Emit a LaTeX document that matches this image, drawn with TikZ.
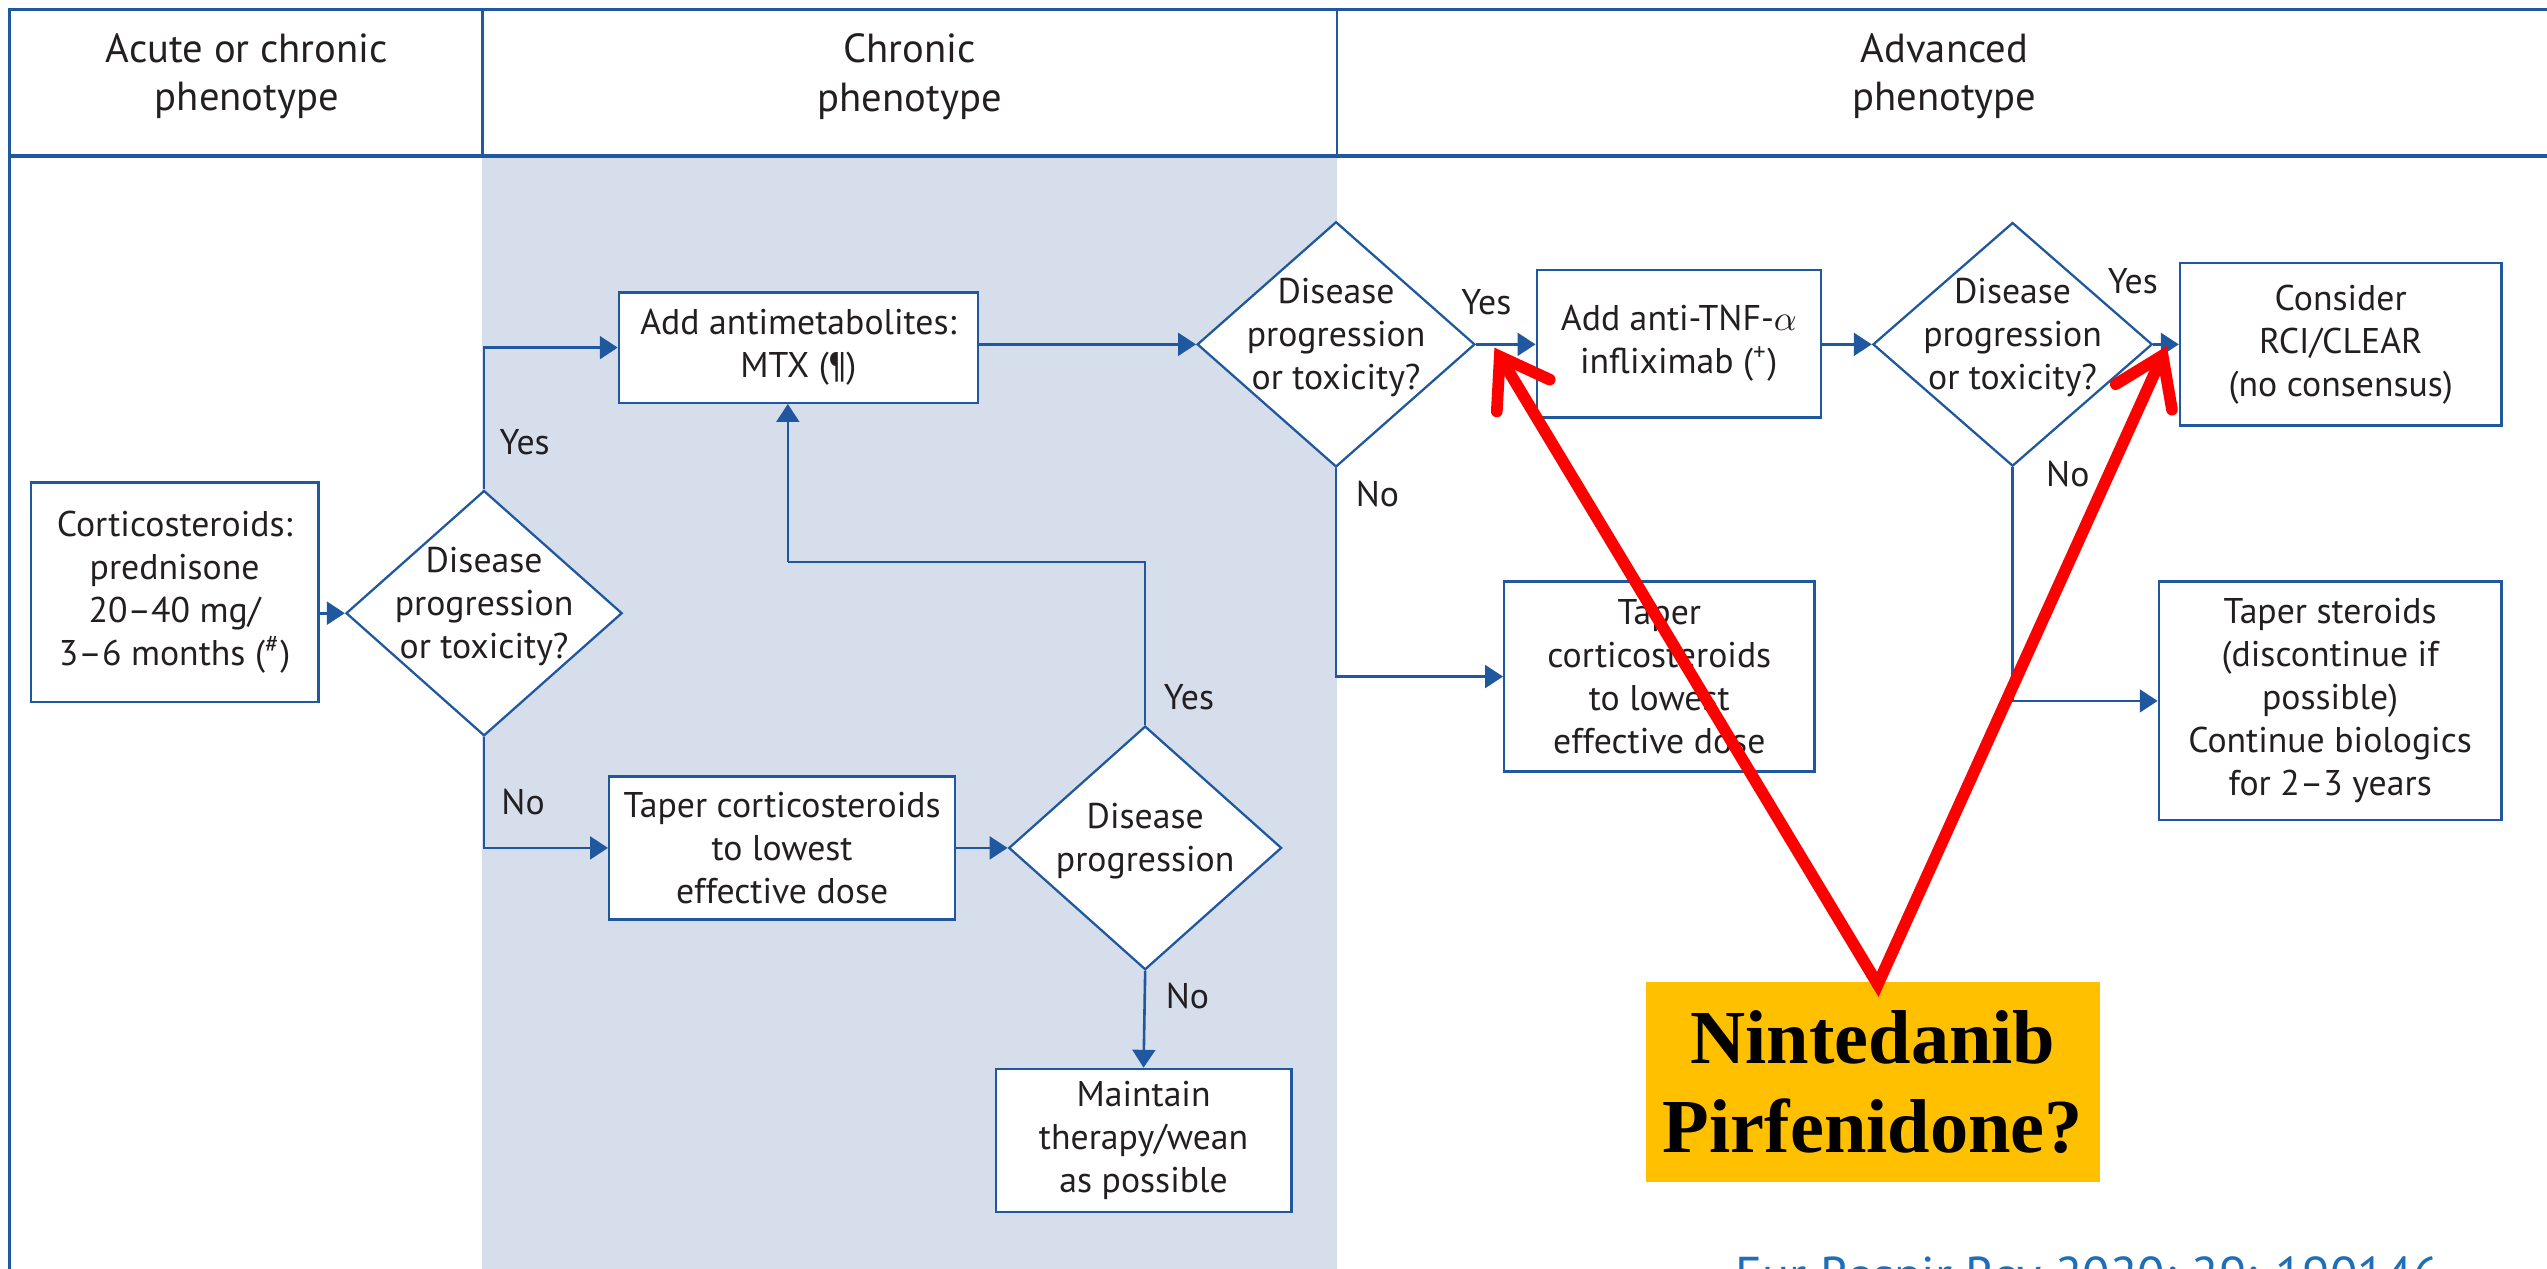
\documentclass[tikz,border=0pt]{standalone}
\usepackage{fontspec}
\setmainfont{PT Sans}
\newfontfamily\drugfont{Liberation Serif}
\usetikzlibrary{arrows.meta,shapes.geometric}

\definecolor{flowblue}{HTML}{1F589E}
\definecolor{colshade}{HTML}{D6DEEC}
\definecolor{inktext}{HTML}{231F20}
\definecolor{drugfill}{HTML}{FFC000}
\definecolor{refblue}{HTML}{1F6FB8}

\begin{document}
\begin{tikzpicture}[x=0.5pt,y=-0.5pt,
  every node/.style={text=inktext},
  bodyfont/.style={font=\fontsize{11}{13.25}\selectfont},
  headfont/.style={font=\fontsize{12.5}{15}\selectfont},
  frameline/.style={draw=flowblue,line width=0.8pt},
  stepbox/.style={draw=flowblue,line width=0.7pt,fill=white,rectangle,
    inner sep=0pt,align=center,bodyfont},
  decision/.style={draw=flowblue,line width=0.7pt,fill=white,diamond,
    inner sep=0pt,shape aspect=1},
  dtext/.style={align=center,bodyfont,inner sep=0pt,yshift=2pt},
  branch/.style={bodyfont,inner sep=0pt},
  flow/.style={draw=flowblue,line width=0.8pt,
    -{Triangle[length=5.5pt,width=7pt]}},
  plainflow/.style={draw=flowblue,line width=0.8pt},
  redarrow/.style={draw=red,line width=3.6pt,line join=miter,
    {Straight Barb[length=14pt,width=19pt,line cap=round]}-{Straight Barb[length=14pt,width=19pt,line cap=round]}},
]
\useasboundingbox (0,0) rectangle (1568,781);
\begin{scope}
\clip (0,0) rectangle (1568,781);

% shaded middle column
\fill[colshade] (297,96) rectangle (823,781);

% table frame and header
\draw[frameline] (6,781) -- (6,6) -- (1568,6);
\draw[frameline,line width=1.3pt] (6,96) -- (1568,96);
\draw[frameline] (297,6) -- (297,96);
\draw[frameline] (823,6) -- (823,96);

\node[headfont,align=center] (h1) at (152,47) {Acute or chronic\\phenotype};
\node[headfont,align=center] (h2) at (560,47) {Chronic\\phenotype};
\node[headfont,align=center] (h3) at (1197,47) {Advanced\\phenotype};

% process boxes
\node[stepbox,minimum width=88.5pt,minimum height=67.5pt] (cort) at (107.5,364.5)
  {Corticosteroids:\\prednisone\\20--40 mg/\\3--6 months (\textsuperscript{\#})};
\node[stepbox,minimum width=110.5pt,minimum height=34pt] (mtx) at (491.5,214)
  {Add antimetabolites:\\MTX (¶)};
\node[stepbox,minimum width=87.5pt,minimum height=45.5pt] (tnf) at (1033.5,211.5)
  {Add anti-TNF-$\alpha$\\infliximab (\textsuperscript{+})};
\node[stepbox,minimum width=99pt,minimum height=50pt] (rci) at (1441,212)
  {Consider\\RCI/CLEAR\\(no consensus)};
\node[stepbox,minimum width=95.5pt,minimum height=58.5pt] (tapadv) at (1021.5,416.5)
  {Taper\\corticosteroids\\to lowest\\effective dose};
\node[stepbox,minimum width=105.5pt,minimum height=73.5pt] (tapbio) at (1434.5,431.5)
  {Taper steroids\\(discontinue if\\possible)\\Continue biologics\\for 2--3 years};
\node[stepbox,minimum width=106.5pt,minimum height=44pt] (tapchr) at (481.5,522)
  {Taper corticosteroids\\to lowest\\effective dose};
\node[stepbox,minimum width=91pt,minimum height=44pt] (maint) at (704,702)
  {Maintain\\therapy/wean\\as possible};

% decisions
\node[decision,minimum width=85pt,minimum height=75.5pt] (d1) at (298,377.5) {};
\node[dtext] (d1t) at (d1.center) {Disease\\progression\\or toxicity?};
\node[decision,minimum width=85.5pt,minimum height=75.5pt] (d2) at (822.5,212) {};
\node[dtext] (d2t) at (d2.center) {Disease\\progression\\or toxicity?};
\node[decision,minimum width=86pt,minimum height=75pt] (d3) at (1239,212) {};
\node[dtext] (d3t) at (d3.center) {Disease\\progression\\or toxicity?};
\node[decision,minimum width=84pt,minimum height=75pt] (d4) at (705,522) {};
\node[dtext] (d4t) at (d4.center) {Disease\\progression};

% connectors
\coordinate (back) at (485,346);
\draw[flow] (d1.west -| cort.east) -- (d1.west);
\draw[flow] (d1.north) |- (mtx.west);
\draw[flow] (d1.south) |- (tapchr.west);
\draw[flow] (d2.west -| mtx.east) -- (d2.west);
\draw[flow] (d2.east) -- (d2.east -| tnf.west);
\draw[flow] (d3.west -| tnf.east) -- (d3.west);
\draw[flow] (d3.east) -- (d3.east -| rci.west);
\draw[flow] (d2.south) |- (tapadv.west);
\draw[flow] (d3.south) |- (tapbio.west);
\draw[flow] (d4.west -| tapchr.east) -- (d4.west);
\draw[plainflow] (d4.north) |- (back);
\draw[flow] (back) -- (back |- mtx.south);
\draw[flow] (d4.south) -- (maint.north);

% branch labels
\node[branch] (y1) at (323,272) {Yes};
\node[branch] (n1) at (322,494) {No};
\node[branch] (y2) at (915,186) {Yes};
\node[branch] (n2) at (848,304) {No};
\node[branch] (y3) at (1313,173) {Yes};
\node[branch] (n3) at (1273,292) {No};
\node[branch] (y4) at (732,429) {Yes};
\node[branch] (n4) at (731,613) {No};

% annotation
\node[fill=drugfill,minimum width=140pt,minimum height=61.5pt,inner sep=0pt,
  align=center,text=black,font=\drugfont\bfseries\fontsize{23.5}{27.5}\selectfont]
  (drug) at (1153,666) {Nintedanib\\Pirfenidone?};
\coordinate (vee) at (1156,606);
\coordinate (tipa) at (920,214);
\coordinate (tipb) at (1334,213);
\draw[redarrow] (tipa) -- (vee) -- (tipb);

% running footer, partly below the page edge
\node[anchor=north west,inner sep=0pt,text=refblue,
  font=\fontsize{15.5}{18}\selectfont] (ref) at (1068,773)
  {Eur Respir Rev 2020; 29: 190146};
\end{scope}
\end{tikzpicture}
\end{document}
